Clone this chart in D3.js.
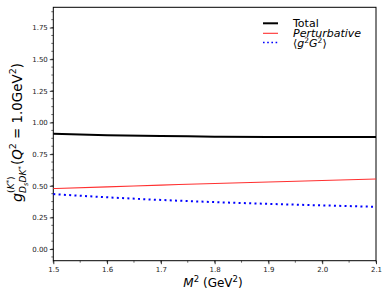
<!DOCTYPE html>
<html><head><meta charset="utf-8">
<script src="https://cdn.jsdelivr.net/npm/d3@7"></script>
<style>
html,body{margin:0;padding:0;background:#fff;}
svg{display:block;font-family:"DejaVu Sans",sans-serif;}
text{white-space:pre;}
</style></head>
<body><svg id="c" width="390" height="297"></svg>
<script>
const M2 = [1.5, 1.6, 1.7, 1.8, 1.9, 2.0, 2.1];
const total = [0.911, 0.900, 0.893, 0.888, 0.885, 0.885, 0.886];
const perturbative = [0.478, 0.491, 0.505, 0.518, 0.530, 0.542, 0.553];
const condensate = [0.434, 0.409, 0.388, 0.371, 0.357, 0.345, 0.334];
const xTicks = [1.5, 1.6, 1.7, 1.8, 1.9, 2.0, 2.1];
const yTicks = [0.00, 0.25, 0.50, 0.75, 1.00, 1.25, 1.50, 1.75];

const svg = d3.select("#c");
const L = 53.3, R = 376, T = 7.3, B = 260.7;
const x = d3.scaleLinear().domain([1.5, 2.1]).range([L, R]);
const y = d3.scaleLinear().domain([-0.092, 1.91]).range([B, T]);

// minor ticks
const xMinor = d3.range(1.5, 2.1001, 0.05);
const yMinor = d3.range(-0.0625, 1.91, 0.0625);
const gx = svg.append("g").attr("transform", `translate(0,${B})`);
gx.selectAll("line.mn").data(xMinor).join("line").attr("class","mn")
  .attr("x1", d=>x(d)).attr("x2", d=>x(d)).attr("y1",0).attr("y2",2).attr("stroke","#000").attr("stroke-width",0.6);
gx.call(d3.axisBottom(x).tickValues(xTicks).tickFormat(d3.format(".1f")).tickSize(3.5).tickPadding(2.5));
const gy = svg.append("g").attr("transform", `translate(${L},0)`);
gy.selectAll("line.mn").data(yMinor).join("line").attr("class","mn")
  .attr("y1", d=>y(d)).attr("y2", d=>y(d)).attr("x1",0).attr("x2",-2).attr("stroke","#000").attr("stroke-width",0.6);
gy.call(d3.axisLeft(y).tickValues(yTicks).tickFormat(d3.format(".2f")).tickSize(3.5).tickPadding(2));
[gx, gy].forEach(g => {
  g.select(".domain").remove();
  g.selectAll(".tick line").attr("stroke","#000").attr("stroke-width",0.8);
  g.selectAll(".tick text").attr("font-size","7px").attr("fill","#222").attr("font-family","DejaVu Sans");
});

// frame
svg.append("rect").attr("x",L).attr("y",T).attr("width",R-L).attr("height",B-T)
  .attr("fill","none").attr("stroke","#000").attr("stroke-width",1);

const line = arr => d3.line().x((d,i)=>x(M2[i])).y(d=>y(d)).curve(d3.curveMonotoneX)(arr);
svg.append("path").attr("d", line(total)).attr("fill","none").attr("stroke","#000").attr("stroke-width",2);
svg.append("path").attr("d", line(perturbative)).attr("fill","none").attr("stroke","#ff3030").attr("stroke-width",1.1);
svg.append("path").attr("d", line(condensate)).attr("fill","none").attr("stroke","#0000ff").attr("stroke-width",2).attr("stroke-dasharray","2,3.3");

// legend
const leg = svg.append("g");
const legItems = [
  {c:"#000", w:2, dash:null, y:23.3},
  {c:"#ff3030", w:1.1, dash:null, y:33.3},
  {c:"#0000ff", w:1.6, dash:"1.6,2.6", y:42.5}
];
legItems.forEach(it => {
  leg.append("line").attr("x1",263).attr("x2",278).attr("y1",it.y).attr("y2",it.y)
    .attr("stroke",it.c).attr("stroke-width",it.w).attr("stroke-dasharray",it.dash);
});
const LF = "11px";
leg.append("text").attr("x",293).attr("y",27.3).attr("font-size",LF).text("Total");
leg.append("text").attr("x",293).attr("y",37.3).attr("font-size",LF).attr("font-style","italic").text("Perturbative");
const t3 = leg.append("text").attr("x",293).attr("y",46.8).attr("font-size",LF);
t3.append("tspan").text("\u27E8");
t3.append("tspan").attr("font-style","italic").text("g");
t3.append("tspan").attr("font-size","7.5px").attr("dy",-4).text("2");
t3.append("tspan").attr("font-style","italic").attr("dy",4).text("G");
t3.append("tspan").attr("font-size","7.5px").attr("dy",-4).text("2");
t3.append("tspan").attr("dy",4).text("\u27E9");

// x label
const xl = svg.append("text").attr("x", 213).attr("y", 287).attr("text-anchor","middle").attr("font-size","12px");
xl.append("tspan").attr("font-style","italic").text("M");
xl.append("tspan").attr("font-size","8.5px").attr("dy",-5).text("2");
xl.append("tspan").attr("dy",5).text("\u00A0(GeV");
xl.append("tspan").attr("font-size","8.5px").attr("dy",-5).text("2");
xl.append("tspan").attr("dy",5).text(")");

// y label (rotated, built from measured pieces)
const yl = svg.append("g").attr("transform","translate(22,132.5) rotate(-90)");
const inner = yl.append("g");
let cx = 0;
function piece(txt, size, dy, italic){
  const t = inner.append("text").attr("x", cx).attr("y", dy).attr("font-size", size+"px")
    .attr("font-style", italic?"italic":"normal").text(txt);
  cx += t.node().getComputedTextLength();
}
piece("g", 15, 0, true);
const s0 = cx;
piece("(", 9.5, -8, false); piece("K", 9.5, -8, true); piece("*", 7, -11, false); piece(")", 9.5, -8, false);
const supEnd = cx;
cx = s0;
piece("D", 9.5, 4.5, true); piece("s", 7, 6.5, true); piece("DK", 9.5, 4.5, true); piece("*", 7, 1.5, false);
const subEnd = cx;
cx = Math.max(supEnd, subEnd) + 1;
piece("(", 14, 0, false); piece("Q", 14, 0, true); piece("2", 10, -6, false);
piece("\u00A0=\u00A01.0GeV", 14, 0, false); piece("2", 10, -6, false); piece(")", 14, 0, false);
const target = 139, k = target / cx;
inner.attr("transform", `scale(${k}) translate(${-cx/2},0)`);
</script></body></html>
